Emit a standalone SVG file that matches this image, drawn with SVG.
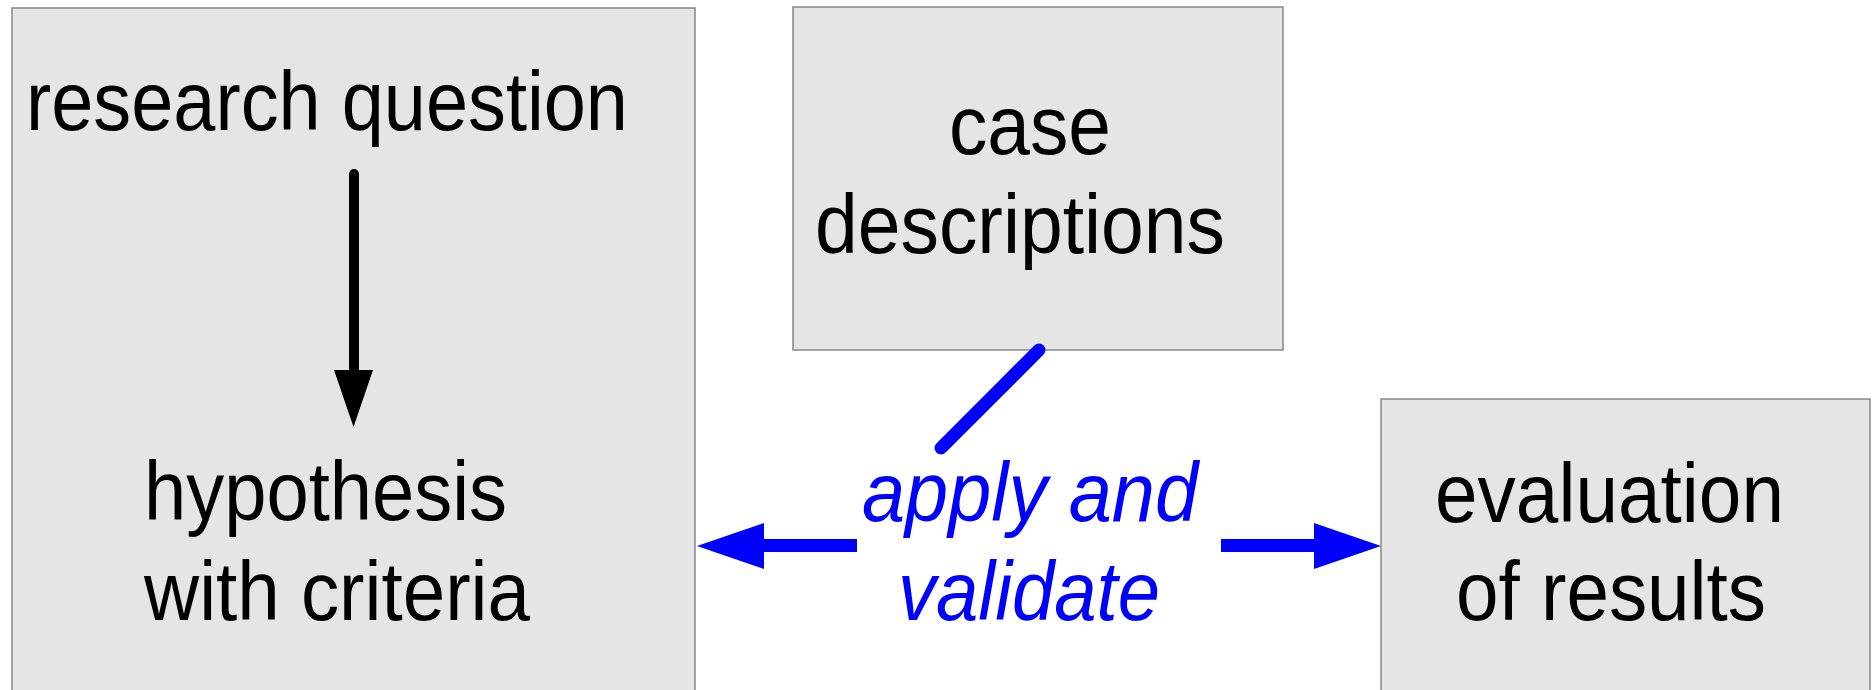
<svg xmlns="http://www.w3.org/2000/svg" width="1873" height="690" viewBox="0 0 1873 690">
<style>
.box{fill:#e5e5e5;stroke:#888;stroke-width:1.5}
.t{font-family:"Liberation Sans",Arial,sans-serif;font-size:83px;fill:#000}
.b{font-family:"Liberation Sans",Arial,sans-serif;font-size:83px;font-style:italic;fill:#0000ff}
</style>
<rect width="1873" height="690" fill="#fff"/>
<g id="node-research">
<rect class="box" x="12" y="8" width="683" height="700"/>
<text class="t" x="26" y="130" textLength="602" lengthAdjust="spacingAndGlyphs">research question</text>
<text class="t" x="144" y="520" textLength="363" lengthAdjust="spacingAndGlyphs">hypothesis</text>
<text class="t" x="144" y="620" textLength="386" lengthAdjust="spacingAndGlyphs">with criteria</text>
</g>
<g id="node-case">
<rect class="box" x="793" y="7" width="490" height="343"/>
<text class="t" x="949" y="154" textLength="162" lengthAdjust="spacingAndGlyphs">case</text>
<text class="t" x="815" y="253" textLength="410" lengthAdjust="spacingAndGlyphs">descriptions</text>
</g>
<g id="node-evaluation">
<rect class="box" x="1381" y="399" width="489" height="300"/>
<text class="t" x="1435" y="522" textLength="349" lengthAdjust="spacingAndGlyphs">evaluation</text>
<text class="t" x="1456" y="620" textLength="310" lengthAdjust="spacingAndGlyphs">of results</text>
</g>
<g id="connectors">
<line x1="354" y1="174" x2="354" y2="372" stroke="#000" stroke-width="10" stroke-linecap="round"/>
<polygon points="334,370 373,370 353.5,427" fill="#000"/>
<line x1="1039" y1="350" x2="941" y2="448" stroke="#0000ff" stroke-width="13" stroke-linecap="round"/>
<rect x="760" y="539" width="97" height="13" fill="#0000ff"/>
<polygon points="697,546 764,523 764,569" fill="#0000ff"/>
<rect x="1221" y="539" width="95" height="13" fill="#0000ff"/>
<polygon points="1314,523 1381,546 1314,569" fill="#0000ff"/>
<text class="b" x="862" y="521" textLength="336" lengthAdjust="spacingAndGlyphs">apply and</text>
<text class="b" x="898" y="620" textLength="262" lengthAdjust="spacingAndGlyphs">validate</text>
</g>
</svg>
